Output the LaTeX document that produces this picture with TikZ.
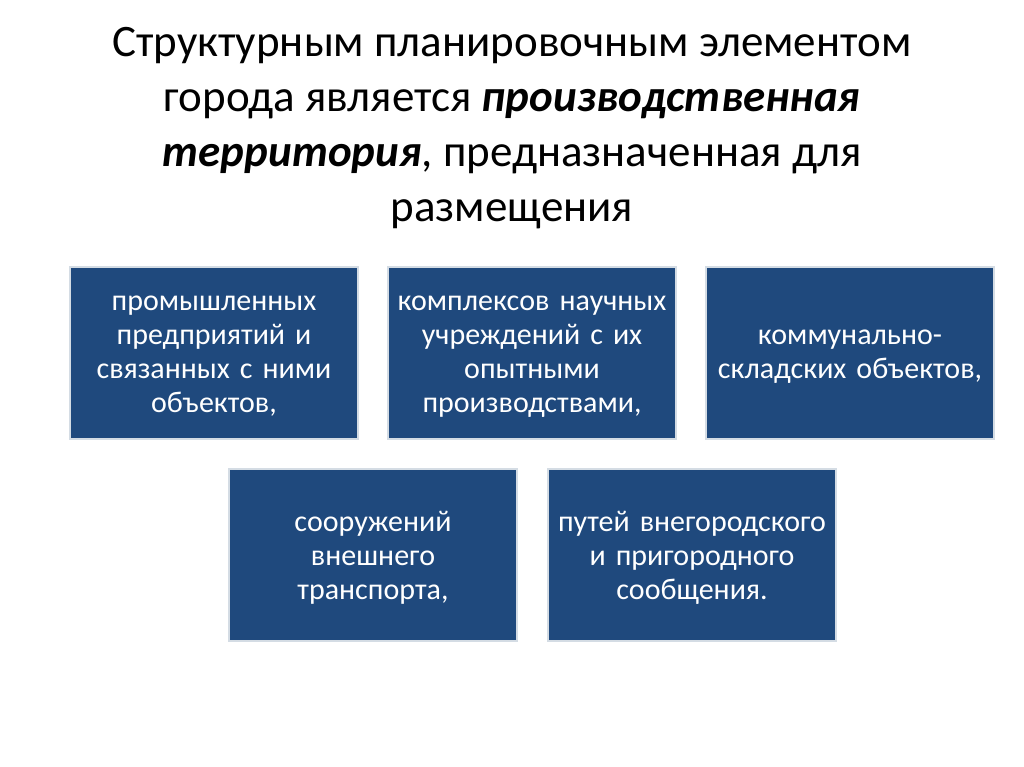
\documentclass[tikz,border=0pt]{standalone}
\usepackage{fontspec}
\setmainfont{Carlito}
\definecolor{boxblue}{HTML}{1F497D}
\definecolor{boxedge}{HTML}{D4DCE4}
\begin{document}
\begin{tikzpicture}[x=1pt,y=-1pt,
  itembox/.style={draw=boxedge, line width=2pt, fill=boxblue,
    minimum width=288pt, minimum height=172pt, inner sep=0pt},
  itemtext/.style={text=white, inner sep=0pt,
    font=\fontsize{30}{34}\selectfont, align=center, text width=280pt},
  titletext/.style={font=\fontsize{45}{55}\selectfont, align=center, text=black}]
\useasboundingbox[fill=white] (0,0) rectangle (1024,767);
\node[titletext] (title) at (512,128) {Структурным планировочным элементом\\города является \textbf{\textit{производственная}}\\\textbf{\textit{территория}}, предназначенная для\\размещения};
\node[itembox] (b1) at (214,353) {};
\node[itembox] (b2) at (532,353) {};
\node[itembox] (b3) at (850,353) {};
\node[itembox] (b4) at (373,554.5) {};
\node[itembox] (b5) at (692,554.5) {};
\node[itemtext] (t1) at ([yshift=-3.5pt]b1.center) {промышленных\\предприятий и\\связанных с ними\\объектов,};
\node[itemtext] (t2) at ([yshift=-3.5pt]b2.center) {комплексов научных\\учреждений с их\\опытными\\производствами,};
\node[itemtext] (t3) at ([yshift=-3.5pt]b3.center) {коммунально-\\складских объектов,};
\node[itemtext] (t4) at ([yshift=-3.5pt]b4.center) {сооружений\\внешнего\\транспорта,};
\node[itemtext] (t5) at ([yshift=-3.5pt]b5.center) {путей внегородского\\и пригородного\\сообщения.};
\end{tikzpicture}
\end{document}
